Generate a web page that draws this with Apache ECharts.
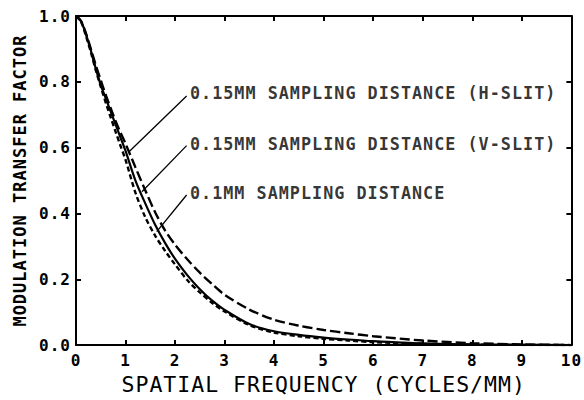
<!DOCTYPE html>
<html>
<head>
<meta charset="utf-8">
<script src="https://cdn.jsdelivr.net/npm/echarts@6/dist/echarts.min.js"></script>
<style>
  html, body { margin: 0; padding: 0; background: #fff; }
  #chart { width: 584px; height: 400px; }
  /* plotter-style lettering is slightly spread out */
  #chart svg text { letter-spacing: 1px; }
</style>
</head>
<body>
<div id="chart"></div>
<script>
// Spatial frequency samples (cycles/mm)
const freq = [0, 0.1, 0.2, 0.3, 0.4, 0.5, 0.6, 0.7, 0.8, 0.9, 1.0, 1.2, 1.4, 1.6, 1.8, 2.0, 2.25, 2.5, 2.75, 3.0, 3.5, 4.0, 4.5, 5.0, 5.5, 6.0, 7.0, 8.0, 9.0, 10.0];

// Modulation transfer factor for each sampling setup
const mtfHSlit015 = [1.0, 0.985, 0.948, 0.9, 0.85, 0.805, 0.76, 0.72, 0.68, 0.645, 0.612, 0.54, 0.47, 0.403, 0.348, 0.305, 0.26, 0.22, 0.185, 0.153, 0.108, 0.077, 0.059, 0.046, 0.036, 0.027, 0.014, 0.006, 0.002, 0];
const mtfVSlit015 = [1.0, 0.985, 0.945, 0.895, 0.84, 0.79, 0.75, 0.71, 0.67, 0.63, 0.59, 0.5, 0.43, 0.365, 0.31, 0.262, 0.212, 0.17, 0.135, 0.107, 0.064, 0.042, 0.031, 0.023, 0.017, 0.012, 0.005, 0.002, 0.001, 0];
const mtf010 = [1.0, 0.983, 0.94, 0.89, 0.835, 0.785, 0.737, 0.692, 0.648, 0.605, 0.563, 0.463, 0.388, 0.332, 0.286, 0.245, 0.197, 0.16, 0.128, 0.102, 0.061, 0.038, 0.027, 0.019, 0.014, 0.009, 0.004, 0.0015, 0.0005, 0];

// Curve annotations: text, text anchor, leader start and leader tip (data units)
const noteText = ['0.15MM SAMPLING DISTANCE (H-SLIT)', '0.15MM SAMPLING DISTANCE (V-SLIT)', '0.1MM SAMPLING DISTANCE'];
const noteAnchor = [[2.30, 0.767], [2.30, 0.61], [2.30, 0.461]];
const leaderStart = [[2.233, 0.757], [2.233, 0.606], [2.233, 0.456]];
const leaderTip = [[1.06, 0.586], [1.33, 0.466], [1.63, 0.345]];

// Axis ticks
const xTicks = { min: 0, max: 10, step: 1 };
const yTicks = { min: 0, max: 1, step: 0.2 };
const xTitle = 'SPATIAL FREQUENCY (CYCLES/MM)';
const yTitle = 'MODULATION TRANSFER FACTOR';

const FONT = 'DejaVu Sans Mono';
const INK = '#000';

const pairs = (xs, ys) => xs.map((x, i) => [x, ys[i]]);

function frameAxis(base) {
  return Object.assign({
    type: 'value',
    axisLine: { show: true, onZero: false, lineStyle: { color: INK, width: 2 } },
    axisTick: { show: true, inside: true, length: 5, lineStyle: { color: INK, width: 2 } },
    splitLine: { show: false },
    axisLabel: { show: false }
  }, base);
}

const tickLabel = { show: true, color: INK, fontFamily: FONT, fontWeight: 'bold', fontSize: 16 };

const chart = echarts.init(document.getElementById('chart'), null, { renderer: 'svg' });

const series = [
  {
    name: '0.15MM H-SLIT', type: 'line', data: pairs(freq, mtfHSlit015),
    showSymbol: false, smooth: 0.3,
    lineStyle: { color: INK, width: 2.4, type: [10, 4] }, z: 3
  },
  {
    name: '0.15MM V-SLIT', type: 'line', data: pairs(freq, mtfVSlit015),
    showSymbol: false, smooth: 0.3,
    lineStyle: { color: INK, width: 2.2, type: 'solid' }, z: 3
  },
  {
    name: '0.1MM', type: 'line', data: pairs(freq, mtf010),
    showSymbol: false, smooth: 0.3,
    lineStyle: { color: INK, width: 2.4, type: [5, 3] }, z: 3
  }
];

// leader lines from each note to its curve
leaderStart.forEach((p, i) => {
  series.push({
    type: 'line', data: [p, leaderTip[i]], showSymbol: false, silent: true,
    lineStyle: { color: INK, width: 1.3 }, z: 4
  });
});

// note texts
series.push({
  type: 'scatter', symbolSize: 0, silent: true, z: 5,
  data: noteAnchor.map((p, i) => ({ value: p, name: noteText[i] })),
  label: {
    show: true, position: 'right', distance: 0, formatter: '{b}',
    color: INK, fontFamily: FONT, fontWeight: 'bold', fontSize: 16.8
  }
});

chart.setOption({
  animation: false,
  backgroundColor: '#fff',
  grid: { left: 76, right: 12, top: 16, bottom: 52 },
  xAxis: [
    frameAxis({
      position: 'bottom', min: xTicks.min, max: xTicks.max, interval: xTicks.step,
      axisLabel: Object.assign({ margin: 7 }, tickLabel),
      name: xTitle, nameLocation: 'middle', nameGap: 27,
      nameTextStyle: { color: INK, fontFamily: FONT, fontSize: 21.5 }
    }),
    frameAxis({ position: 'top', min: xTicks.min, max: xTicks.max, interval: xTicks.step })
  ],
  yAxis: [
    frameAxis({
      position: 'left', min: yTicks.min, max: yTicks.max, interval: yTicks.step,
      axisLabel: Object.assign({ margin: 5, formatter: v => v.toFixed(1) }, tickLabel),
      name: yTitle, nameLocation: 'middle', nameGap: 48,
      nameTextStyle: { color: INK, fontFamily: FONT, fontWeight: 'bold', fontSize: 17 }
    }),
    frameAxis({ position: 'right', min: yTicks.min, max: yTicks.max, interval: yTicks.step })
  ],
  series: series
});
</script>
</body>
</html>
